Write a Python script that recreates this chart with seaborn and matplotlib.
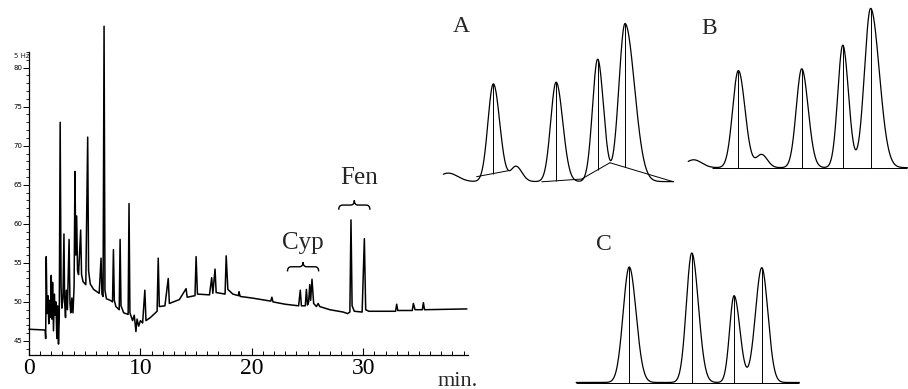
import numpy as np
import pandas as pd
import matplotlib
matplotlib.use("Agg")
import matplotlib.pyplot as plt
import seaborn as sns
from matplotlib.path import Path
from matplotlib.patches import PathPatch
from matplotlib.ticker import MultipleLocator

# main chromatogram: vertices (time in min, signal in Hz)
trace_min = [0.0, 1.45, 1.5, 1.55, 1.62, 1.7, 1.78, 1.85, 1.92, 2.0, 2.05, 2.12, 2.2, 2.28,
             2.35, 2.42, 2.5, 2.58, 2.65, 2.72, 2.8, 2.88, 2.95, 3.05, 3.14, 3.2, 3.28,
             3.35, 3.45, 3.6, 3.68, 3.75, 3.85, 3.95, 4.05, 4.13, 4.2, 4.28, 4.36, 4.45,
             4.64, 4.72, 4.85, 5.1, 5.27, 5.35, 5.5, 5.8, 6.3, 6.47, 6.55, 6.65, 6.74,
             6.82, 6.95, 7.3, 7.5, 7.58, 7.66, 7.8, 8.1, 8.18, 8.26, 8.5, 8.9, 8.98, 9.06,
             9.3, 9.45, 9.6, 9.7, 9.85, 10.0, 10.2, 10.4, 10.5, 10.9, 11.5, 11.6, 11.7,
             12.2, 12.5, 12.6, 13.5, 14.1, 14.2, 14.9, 15.0, 15.12, 16.2, 16.4, 16.5,
             16.7, 16.8, 17.6, 17.7, 17.85, 18.3, 18.8, 18.85, 18.95, 20.0, 21.7, 21.8,
             21.9, 23.0, 24.2, 24.35, 24.45, 24.8, 24.9, 25.0, 25.1, 25.2, 25.28, 25.4,
             25.55, 25.8, 25.95, 26.1, 27.0, 28.2, 28.6, 28.8, 28.9, 29.0, 29.2, 29.9,
             30.1, 30.22, 30.5, 32.9, 33.0, 33.1, 34.4, 34.5, 34.65, 35.3, 35.4, 35.5,
             39.3]
trace_hz = [46.5, 46.4, 45.3, 55.8, 48.5, 50.8, 47.2, 50.2, 48.0, 53.4, 47.8, 52.5, 46.3, 51.0,
            48.3, 50.0, 45.3, 49.5, 44.6, 48.0, 73.0, 52.0, 49.2, 50.5, 58.7, 50.0, 48.0,
            51.5, 49.0, 58.0, 49.8, 48.6, 50.5, 48.6, 52.0, 66.7, 56.0, 61.0, 54.0, 53.5,
            59.2, 53.5, 52.6, 52.2, 71.1, 54.0, 52.3, 51.6, 51.1, 55.6, 51.0, 50.7, 85.3,
            51.5, 50.4, 50.2, 50.0, 56.7, 50.2, 49.4, 49.0, 58.0, 49.5, 48.6, 48.4, 62.6, 48.6,
            47.6, 48.3, 46.2, 47.8, 46.9, 47.6, 47.3, 51.5, 47.6, 48.0, 48.8, 55.6, 49.4,
            49.5, 53.0, 49.8, 50.3, 51.7, 50.6, 50.8, 55.8, 51.0, 50.9, 53.1, 51.1,
            54.2, 51.2, 51.0, 55.9, 51.6, 51.0, 50.8, 51.3, 50.7, 50.5, 50.1, 50.6,
            50.0, 49.7, 49.5, 51.5, 49.5, 49.5, 51.6, 49.6, 50.0, 52.2, 50.2, 52.9,
            49.8, 49.4, 49.8, 49.4, 49.0, 48.7, 48.5, 48.7, 60.5, 49.5, 48.8, 48.7,
            58.1, 49.0, 48.8, 48.8, 49.7, 48.9, 48.9, 49.8, 49.0, 49.0, 49.9, 49.0,
            49.1]

# insets: peak tables (relative retention, height, left sigma, right sigma)
a_rt = [3.5, 22.6, 32.2, 49.2, 66.8, 78.4]
a_height = [5.0, 57.5, 9.0, 58.5, 72.0, 93.0]
a_sig_l = [4.0, 2.3, 2.2, 2.3, 2.2, 2.6]
a_sig_r = [4.0, 2.7, 2.5, 2.8, 2.5, 4.0]
a_base = 2.0
a_marked = [22.6, 49.2, 66.8, 78.4]
# valley-to-valley integration segments (x0, y0, x1, y1)
a_segments = [(15.5, 4.9, 28.9, 8.4), (43.1, 1.9, 60.0, 3.5),
              (60.0, 3.5, 72.0, 13.1), (72.0, 13.1, 98.9, 1.9)]

b_rt = [6.0, 25.6, 35.8, 53.4, 71.4, 83.6]
b_height = [4.5, 55.5, 7.5, 56.5, 70.0, 91.0]
b_sig_l = [3.5, 2.5, 2.3, 2.4, 2.2, 2.7]
b_sig_r = [3.5, 2.9, 2.5, 2.8, 2.5, 3.8]
b_base = 4.2
b_marked = [25.6, 53.4, 71.4, 83.6]
b_line = (13.9, 99.7)

c_rt = [25.2, 51.8, 69.8, 81.6]
c_height = [82.5, 92.5, 62.0, 82.0]
c_sig_l = [2.6, 2.3, 1.9, 2.7]
c_sig_r = [2.9, 2.8, 2.5, 2.6]
c_base = 1.8
c_marked = [25.2, 51.8, 69.8, 81.6]
c_line = (2.6, 97.6)

sns.set_theme(style="white")
plt.rcParams["font.family"] = ["Liberation Serif", "DejaVu Serif"]

fig = plt.figure(figsize=(9.08, 3.89), dpi=100)

# ---- main chromatogram
ax = fig.add_axes([0.0319, 0.0874, 0.4835, 0.7789])
df = pd.DataFrame({"min": trace_min, "Hz": trace_hz})
sns.lineplot(data=df, x="min", y="Hz", ax=ax, color="black", linewidth=1.1,
             sort=False, estimator=None)
for ln in ax.lines:
    ln.set_clip_on(False)
ax.set_xlim(0, 39.4)
ax.set_ylim(43.2, 82)
ax.set_xlabel("")
ax.set_ylabel("")
ax.spines["top"].set_visible(False)
ax.spines["right"].set_visible(False)
for s in ("left", "bottom"):
    ax.spines[s].set_color("black")
    ax.spines[s].set_linewidth(0.9)
ax.xaxis.set_major_locator(MultipleLocator(10))
ax.xaxis.set_minor_locator(MultipleLocator(1))
ax.yaxis.set_major_locator(MultipleLocator(5))
ax.yaxis.set_minor_locator(MultipleLocator(1))
ax.tick_params(axis="x", which="major", direction="in", length=5, width=0.8,
               colors="black", labelsize=17, pad=2, bottom=True)
ax.tick_params(axis="x", which="minor", direction="in", length=3, width=0.7,
               colors="black", bottom=True)
ax.tick_params(axis="y", which="major", direction="out", length=4, width=0.7,
               colors="black", labelsize=5, pad=1, left=True)
ax.tick_params(axis="y", which="minor", direction="out", length=2, width=0.6,
               colors="black", left=True)
for lab in ax.get_yticklabels():
    lab.set_family("DejaVu Sans")
fig.text(0.024, 1 - 56 / 389, "5 Hz", fontsize=5, family="DejaVu Sans",
         ha="center", va="center")
fig.text(458 / 908, 1 - 381 / 389, "min.", fontsize=16, ha="center", va="center")


def brace(axis, x0, x1, y0, h):
    xm = (x0 + x1) / 2
    a = (x1 - x0) * 0.12
    verts = [(x0, y0), (x0, y0 + h / 2), (x0 + a, y0 + h / 2),
             (xm - a, y0 + h / 2), (xm, y0 + h / 2), (xm, y0 + h),
             (xm, y0 + h / 2), (xm + a, y0 + h / 2),
             (x1 - a, y0 + h / 2), (x1, y0 + h / 2), (x1, y0)]
    codes = [Path.MOVETO, Path.CURVE3, Path.CURVE3, Path.LINETO, Path.CURVE3,
             Path.CURVE3, Path.CURVE3, Path.CURVE3, Path.LINETO, Path.CURVE3,
             Path.CURVE3]
    axis.add_patch(PathPatch(Path(verts, codes), fill=False, lw=1.0,
                             color="black", clip_on=False))


brace(ax, 23.2, 26.0, 53.9, 1.2)
brace(ax, 27.8, 30.6, 61.8, 1.2)
ax.text(24.55, 57.6, "Cyp", fontsize=18, ha="center", va="center")
ax.text(29.6, 65.9, "Fen", fontsize=18, ha="center", va="center")


# ---- insets
def trace(x, rts, hs, sl, sr, base):
    y = np.full_like(x, base)
    for rt, h, s1, s2 in zip(rts, hs, sl, sr):
        s = np.where(x < rt, s1, s2)
        y = y + h * np.exp(-0.5 * ((x - rt) / s) ** 2)
    return y


def inset(rect, rts, hs, sl, sr, base, xr):
    iax = fig.add_axes(rect)
    x = np.linspace(xr[0], xr[1], 800)
    y = trace(x, rts, hs, sl, sr, base)
    sns.lineplot(x=x, y=y, ax=iax, color="black", linewidth=0.9,
                 sort=False, estimator=None)
    iax.set_xlim(0, 100)
    iax.set_ylim(0, 100)
    iax.axis("off")
    return iax


ax_a = inset([0.4846, 0.5244, 0.2599, 0.437], a_rt, a_height, a_sig_l, a_sig_r,
             a_base, (1.4, 98.9))
for x0, y0, x1, y1 in a_segments:
    ax_a.plot([x0, x1], [y0, y1], color="black", lw=0.7)
for rt in a_marked:
    for x0, y0, x1, y1 in a_segments:
        if x0 <= rt <= x1:
            yb = y0 + (y1 - y0) * (rt - x0) / (x1 - x0)
    top = trace(np.array([rt]), a_rt, a_height, a_sig_l, a_sig_r, a_base)[0]
    ax_a.vlines(rt, yb, top, color="black", lw=0.7)

ax_b = inset([0.7489, 0.5501, 0.2511, 0.4499], b_rt, b_height, b_sig_l, b_sig_r,
             b_base, (3.6, 99.7))
ax_b.hlines(b_base, *b_line, color="black", lw=0.7)
for rt in b_marked:
    top = trace(np.array([rt]), b_rt, b_height, b_sig_l, b_sig_r, b_base)[0]
    ax_b.vlines(rt, b_base, top, color="black", lw=0.7)

ax_c = inset([0.6278, 0.0103, 0.2588, 0.3599], c_rt, c_height, c_sig_l, c_sig_r,
             c_base, (2.6, 97.6))
ax_c.hlines(c_base - 0.2, *c_line, color="black", lw=0.7)
for rt in c_marked:
    top = trace(np.array([rt]), c_rt, c_height, c_sig_l, c_sig_r, c_base)[0]
    ax_c.vlines(rt, c_base - 0.2, top, color="black", lw=0.7)

fig.text(461.7 / 908, 1 - 26.7 / 389, "A", fontsize=17, ha="center", va="center")
fig.text(709.3 / 908, 1 - 28.3 / 389, "B", fontsize=17, ha="center", va="center")
fig.text(604 / 908, 1 - 245 / 389, "C", fontsize=17, ha="center", va="center")

fig.savefig("out.png", dpi=100)
